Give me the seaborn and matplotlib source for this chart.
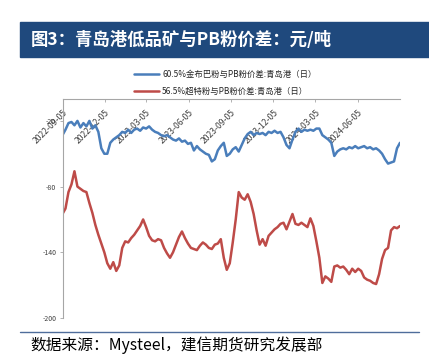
import matplotlib
matplotlib.use("Agg")
import matplotlib.pyplot as plt
import matplotlib.dates as mdates
import pandas as pd
import seaborn as sns
from matplotlib.patches import Rectangle
from matplotlib.lines import Line2D
from matplotlib.ticker import FixedLocator, FixedFormatter

# series (roughly weekly, 2022-09-05 .. 2024-09-04)
blue_name = "60.5%金布巴粉与PB粉价差:青岛港（日）"
red_name = "56.5%超特粉与PB粉价差:青岛港（日）"

blue = [-33, -28, -22, -21, -24, -20, -26, -22, -25, -20, -27, -24, -30, -45, -50,
        -50, -40, -37, -35, -33, -30, -31, -28, -31, -28, -27, -29, -26, -27, -25,
        -28, -30, -31, -33, -34, -33, -35, -37, -38, -36, -39, -38, -41, -40, -47,
        -43, -46, -48, -50, -51, -57, -55, -47, -43, -40, -52, -50, -46, -44, -48,
        -42, -36, -32, -30, -33, -31, -32, -31, -33, -30, -31, -29, -31, -30, -35,
        -42, -45, -37, -30, -27, -30, -28, -29, -28, -29, -27, -27, -33, -35, -37,
        -40, -52, -48, -46, -45, -46, -44, -45, -43, -45, -44, -43, -45, -44, -46,
        -45, -47, -50, -55, -59, -58, -57, -45, -40]

red = [-105, -100, -85, -78, -66, -80, -82, -84, -85, -95, -104, -115, -124, -132, -140,
       -150, -155, -149, -157, -152, -136, -130, -131, -127, -124, -120, -116, -110, -117, -125,
       -129, -130, -128, -129, -136, -141, -145, -140, -133, -126, -121, -127, -132, -136, -137,
       -138, -134, -131, -133, -136, -137, -133, -132, -128, -145, -156, -150, -131, -110, -85,
       -90, -92, -87, -94, -105, -120, -133, -128, -134, -125, -122, -119, -117, -114, -113,
       -119, -112, -105, -114, -115, -113, -115, -117, -109, -116, -130, -145, -168, -162, -164,
       -167, -153, -152, -154, -153, -156, -160, -155, -158, -155, -157, -163, -165, -166, -168,
       -169, -160, -146, -138, -136, -120, -117, -118, -116]

dates = pd.date_range("2022-09-05", "2024-09-04", periods=len(blue))

tick_labels = ["2022-09-05", "2022-12-05", "2023-03-05", "2023-06-05",
               "2023-09-05", "2023-12-05", "2024-03-05", "2024-06-05"]
y_ticks = [-20, -80, -140, -200]

title = "图3：青岛港低品矿与PB粉价差：元/吨"
source = "数据来源：Mysteel，建信期货研究发展部"

c_blue = "#4A7EBB"
c_red = "#BE4B48"
c_axis = "#A6A6A6"
c_banner = "#1F497D"

sns.set_theme(style="white")
plt.rcParams["font.family"] = ["Noto Sans CJK SC", "DejaVu Sans"]
plt.rcParams["axes.unicode_minus"] = False

W, H = 429, 359
fig = plt.figure(figsize=(W / 100, H / 100), dpi=100)
ax = fig.add_axes([62.5 / W, 1 - 318 / H, (400 - 62.5) / W, (318 - 99) / H])

df = pd.DataFrame({
    "date": list(dates) * 2,
    "value": blue + red,
    "series": [blue_name] * len(blue) + [red_name] * len(red),
})
sns.lineplot(data=df, x="date", y="value", hue="series",
             palette=[c_blue, c_red], linewidth=1.8, ax=ax, legend=False)

ax.set_xlim(dates[0], dates[-1])
ax.set_ylim(-200, 0)
ax.set_yticks(y_ticks)
ax.set_yticklabels([str(v) for v in y_ticks])
ax.xaxis.set_major_locator(FixedLocator(mdates.date2num(pd.to_datetime(tick_labels))))
ax.xaxis.set_major_formatter(FixedFormatter(tick_labels))
ax.set_xlabel("")
ax.set_ylabel("")

ax.spines["bottom"].set_position(("data", 0))
ax.spines["top"].set_visible(False)
ax.spines["right"].set_visible(False)
for s in ("bottom", "left"):
    ax.spines[s].set_color(c_axis)
    ax.spines[s].set_linewidth(0.8)
ax.tick_params(axis="both", direction="out", length=2.5, width=0.6, color=c_axis,
               pad=2, labelcolor="#404040")
ax.tick_params(axis="x", bottom=True, labelrotation=45, pad=4, labelsize=6.2)
ax.tick_params(axis="y", left=True, labelsize=5)

handles = [Line2D([], [], color=c_blue, lw=1.8), Line2D([], [], color=c_red, lw=1.8)]
fig.legend(handles, [blue_name, red_name], loc="upper center",
           bbox_to_anchor=(0.525, 1 - 62 / H), frameon=False, fontsize=6,
           handlelength=3, handletextpad=0.4, labelspacing=1.0)

# title banner
fig.add_artist(Rectangle((20 / W, 1 - 57 / H), 409 / W, 35 / H,
                         transform=fig.transFigure, color=c_banner, zorder=0))
fig.text(31 / W, 1 - 40 / H, title, color="white", fontsize=12.5,
         fontweight="bold", va="center", ha="left")

# footer
fig.add_artist(Line2D([20 / W, 419 / W], [1 - 332 / H] * 2,
                      transform=fig.transFigure, color="#4F6D9B", lw=1))
fig.text(30 / W, 1 - 345 / H, source, fontsize=11.3, style="italic",
         va="center", ha="left", color="black")

fig.canvas.draw()
for lab in ax.get_xticklabels():
    lab.set_fontsize(6.2)
    lab.set_ha("right")
    lab.set_va("top")
    lab.set_rotation_mode("anchor")

fig.savefig("out.png", dpi=100)
